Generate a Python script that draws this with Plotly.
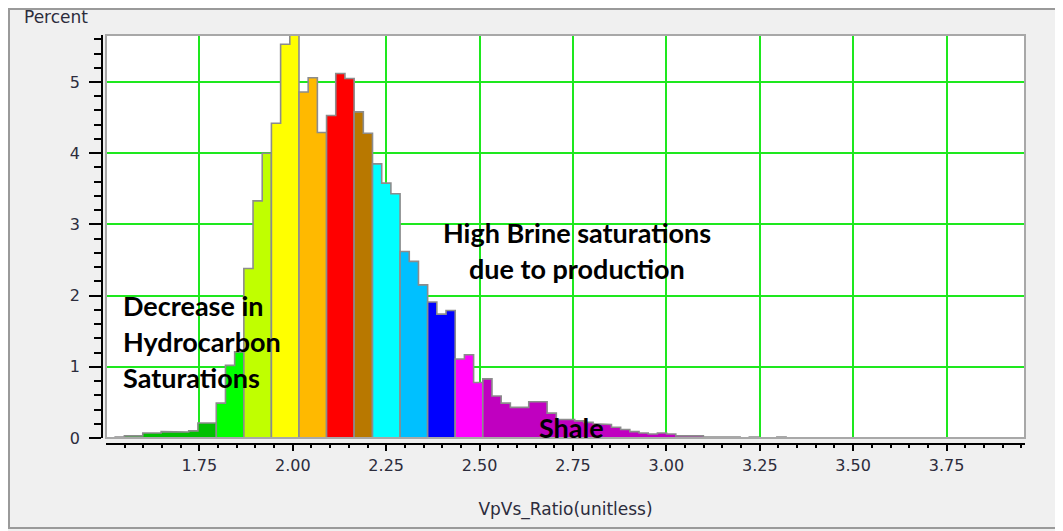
import plotly.graph_objects as go

# ---------------- data ----------------
bin_start = 1.5          # left edge of first histogram bin (VpVs)
bin_width = 0.0246       # histogram bin width
percent = [
    0.0, 0.015, 0.03, 0.03, 0.07, 0.07, 0.09, 0.085, 0.085, 0.10,
    0.21, 0.21, 0.49, 1.02, 1.21, 2.38, 3.33, 4.00, 4.42, 5.53,
    5.90, 4.86, 5.06, 4.29, 4.53, 5.12, 5.05, 4.58, 4.28, 3.85,
    3.58, 3.43, 2.62, 2.48, 2.15, 1.91, 1.74, 1.79, 1.11, 1.17,
    0.78, 0.83, 0.59, 0.49, 0.43, 0.43, 0.51, 0.51, 0.35, 0.26,
    0.26, 0.24, 0.22, 0.20, 0.19, 0.15, 0.12, 0.09, 0.07, 0.056,
    0.07, 0.056, 0.03, 0.02, 0.03, 0.014, 0.014, 0.014, 0.014, 0.0,
    0.014, 0.0, 0.0, 0.014,
]
band_colors = ["#00c000", "#00ff00", "#c0ff00", "#ffff00", "#ffb900", "#ff0000",
               "#b87800", "#00ffff", "#00c0ff", "#0000ff", "#ff00ff", "#c000c0"]
band_sizes = [12, 3, 3, 3, 3, 3, 2, 3, 3, 3, 3, 33]

x_tick_vals = [1.75, 2.00, 2.25, 2.50, 2.75, 3.00, 3.25, 3.50, 3.75]
x_tick_text = ["1.75", "2.00", "2.25", "2.50", "2.75", "3.00", "3.25", "3.50", "3.75"]
y_tick_vals = [0, 1, 2, 3, 4, 5]
x_title = "VpVs_Ratio(unitless)"
y_title = "Percent"

# ---------------- figure ----------------
OFF = 8                      # page body margin compensation
W, H = 1063, 531
ML, MR, MT, MB = 102 - OFF, 38 + OFF, 35 - OFF, 87 + OFF
PW, PH = W - ML - MR, H - MT - MB


def px_x(p):   # page pixel -> paper fraction
    return (p - OFF - ML) / PW


def px_y(p):
    return (H - MB - (p - OFF)) / PH


fig = go.Figure()

edges = [bin_start + i * bin_width for i in range(len(percent) + 1)]
idx = 0
for color, size in zip(band_colors, band_sizes):
    bins = list(range(idx, min(idx + size, len(percent))))
    idx += size
    runs, cur = [], []
    for b in bins:
        if percent[b] > 0:
            cur.append(b)
        elif cur:
            runs.append(cur); cur = []
    if cur:
        runs.append(cur)
    for run in runs:
        xs = [edges[run[0]]]
        ys = [0]
        for b in run:
            xs += [edges[b], edges[b + 1]]
            ys += [percent[b], percent[b]]
        xs += [edges[run[-1] + 1], edges[run[0]]]
        ys += [0, 0]
        fig.add_trace(go.Scatter(
            x=xs, y=ys, mode="lines", fill="toself", fillcolor=color,
            line=dict(color="#8c8c8c", width=1.6), hoverinfo="skip",
            showlegend=False))

text_color = "#2c2c3c"
tick_font = dict(family="DejaVu Sans", size=16, color=text_color)

fig.update_layout(
    width=W, height=H,
    margin=dict(l=ML, r=MR, t=MT, b=MB),
    paper_bgcolor="#f0f0f0", plot_bgcolor="white",
    showlegend=False,
    xaxis=dict(
        domain=[4 / PW, 1], range=[1.5, 3.96], anchor="free", position=0,
        showline=True, linecolor="black", linewidth=1.5,
        ticks="outside", ticklen=6, tickwidth=1.5, tickcolor="black",
        tickmode="array", tickvals=x_tick_vals, ticktext=x_tick_text,
        tickfont=tick_font, ticklabelstandoff=1,
        showgrid=True, gridcolor="#1ee81e", gridwidth=1.5, zeroline=False,
        minor=dict(tickmode="array",
                   tickvals=[round(1.55 + 0.05 * i, 2) for i in range(49)],
                   ticklen=3, tickwidth=1.5, tickcolor="black", showgrid=False),
        title=dict(text=x_title, font=dict(family="DejaVu Sans", size=17, color=text_color),
                   standoff=28),
    ),
    yaxis=dict(
        domain=[6 / PH, 1], range=[0, 5.66], anchor="free", position=0,
        showline=True, linecolor="black", linewidth=1.5,
        ticks="outside", ticklen=12, tickwidth=1.5, tickcolor="black",
        tickmode="array", tickvals=y_tick_vals,
        tickfont=tick_font, ticklabelstandoff=6,
        showgrid=True, gridcolor="#1ee81e", gridwidth=1.5, zeroline=False,
        minor=dict(tickmode="array",
                   tickvals=[round(0.2 * i, 1) for i in range(1, 29)],
                   ticklen=7, tickwidth=1.5, tickcolor="black", showgrid=False),
    ),
)

# plot frame and outer window frame
fig.add_shape(type="rect", xref="x domain", yref="y domain", x0=0, x1=1, y0=0, y1=1,
              line=dict(color="#a8a8a8", width=2), layer="above")
fig.add_shape(type="rect", xref="paper", yref="paper",
              x0=px_x(9), x1=px_x(1061), y0=px_y(528), y1=px_y(9),
              line=dict(color="#9a9a9a", width=2), layer="below")

fig.add_annotation(text=y_title, xref="paper", yref="paper",
                   x=px_x(22), y=px_y(17), xanchor="left", yanchor="middle",
                   showarrow=False, font=dict(family="DejaVu Sans", size=17, color=text_color))

ann_font = dict(family="Lato", size=27, color="black")
for txt, x, y, xa in [
    ("Decrease in", 1.541, 1.856, "left"),
    ("Hydrocarbon", 1.541, 1.35, "left"),
    ("Saturations", 1.541, 0.846, "left"),
    ("High Brine saturations", 2.76, 2.88, "center"),
    ("due to production", 2.76, 2.38, "center"),
    ("Shale", 2.746, 0.144, "center"),
]:
    fig.add_annotation(text="<b>" + txt + "</b>", x=x, y=y, xref="x", yref="y",
                       xanchor=xa, yanchor="middle", showarrow=False, font=ann_font)

fig.write_html("out.html")
